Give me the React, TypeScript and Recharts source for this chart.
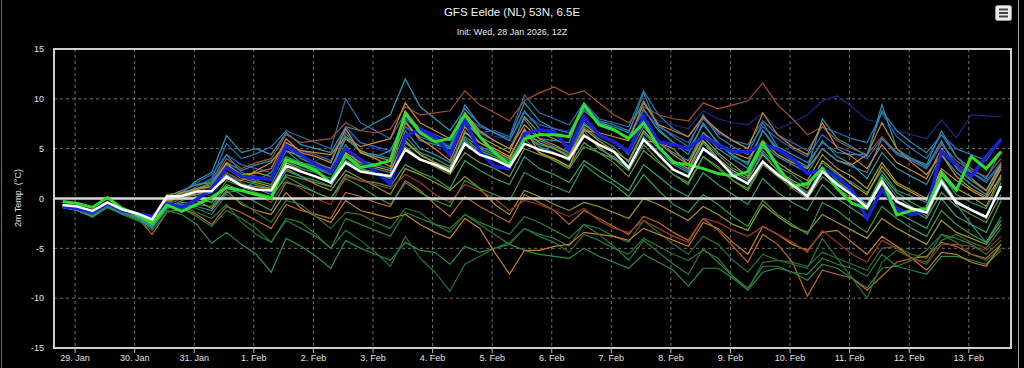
import {
  CartesianGrid,
  Line,
  LineChart,
  ReferenceArea,
  ReferenceLine,
  XAxis,
  YAxis,
} from 'recharts'

// hours since 29 Jan 00:00 (6-hourly steps, 28 Jan 19h .. 13 Feb 13h)
const hours = [
  -5, 1, 7, 13, 19, 25, 31, 37, 43, 49, 55, 61, 67, 73, 79, 85, 91, 97, 103, 109,
  115, 121, 127, 133, 139, 145, 151, 157, 163, 169, 175, 181, 187, 193, 199, 205,
  211, 217, 223, 229, 235, 241, 247, 253, 259, 265, 271, 277, 283, 289, 295, 301,
  307, 313, 319, 325, 331, 337, 343, 349, 355, 361, 367, 373,
]
const tickHours = [0, 24, 48, 72, 96, 120, 144, 168, 192, 216, 240, 264, 288, 312, 336, 360]
const tickLabels = [
  '29. Jan', '30. Jan', '31. Jan', '1. Feb', '2. Feb', '3. Feb', '4. Feb', '5. Feb',
  '6. Feb', '7. Feb', '8. Feb', '9. Feb', '10. Feb', '11. Feb', '12. Feb', '13. Feb',
]
const yTicks = [-15, -10, -5, 0, 5, 10, 15]

// ensemble mean (white)
const ensMean = [
  -0.65, -0.8, -1.25, -0.4, -1.1, -1.5, -2.1, 0.2, 0.25, 0.7, 0.75, 2.2, 1.3, 0.9, 0.8, 3.3,
  2.7, 2.2, 1.6, 3.6, 2.7, 2.45, 2.25, 4.9, 3.9, 3.4, 2.7, 5.5, 4.4, 3.9, 3.2, 5.5,
  4.9, 4.5, 4.0, 6.3, 5.4, 4.7, 3.1, 5.9, 4.4, 2.9, 2.2, 5.0, 3.9, 2.3, 1.5, 3.7,
  2.4, 1.35, 0.2, 2.7, 1.4, 0.35, -0.9, 1.7, -0.3, -1.0, -1.4, 1.7, -0.4, -1.15, -1.85, 1.25,
]
// control run (green)
const control = [
  -0.3, -0.5, -0.9, 0.1, -1.0, -1.6, -2.5, -0.65, -1.3, -0.6, 0.1, 1.1, 0.8, 0.4, 0.0, 3.9,
  3.4, 2.8, 1.6, 4.3, 3.1, 3.4, 3.8, 8.5, 6.6, 5.7, 6.0, 8.4, 6.2, 4.6, 3.4, 6.0,
  6.4, 6.4, 6.2, 9.4, 7.4, 6.9, 6.0, 7.6, 5.2, 3.6, 3.4, 3.0, 2.5, 2.25, 2.7, 5.6,
  3.2, 1.2, 1.5, 3.0, 1.0, -0.5, -1.0, 1.85, -1.65, -1.2, -1.0, 2.5, 0.85, 4.2, 3.0, 4.7,
]
// operational run (blue)
const operational = [
  -0.8, -1.0, -1.4, -0.5, -1.2, -1.5, -1.8, -0.5, -0.9, -0.1, 1.0, 3.1, 2.2, 2.1, 1.9, 5.3,
  4.4, 3.4, 2.7, 5.0, 3.9, 2.7, 1.5, 6.2, 7.0, 6.2, 4.4, 7.9, 4.7, 3.2, 3.0, 6.5,
  6.9, 6.7, 4.9, 8.2, 6.4, 5.7, 4.7, 8.2, 5.7, 5.4, 5.0, 6.2, 5.4, 4.7, 4.7, 5.4,
  4.9, 4.0, 2.5, 2.9, 2.2, 0.85, -2.0, 0.9, -1.0, -1.65, -1.2, 4.7, 3.4, 2.2, 4.2, 5.9,
]

// ensemble members (thin lines)
const memA = [-0.9,-1.1,-1.5,-0.7, -1.3,-1.7,-2.4,-0.3, 0.5,1.8,2.6,6.3, 4.6,5.0,4.4,6.6, 5.4,5.0,4.6,7.2, 6.8,7.6,8.4,12.0, 9.2,8.0,6.8,9.0, 7.4,6.6,6.0,9.6, 7.8,7.0,6.6,8.8, 7.6,6.8,6.2,9.0, 6.8,5.6,4.8,7.4, 5.6,4.2,3.6,6.8, 5.0,4.0,3.2,5.8, 4.2,3.4,2.0,4.6, 3.0,2.2,1.4,4.4, 2.6,1.4,0.4,3.2]
const memB = [-0.7,-0.9,-1.3,-0.5, -1.0,-1.4,-2.0,-0.1, 0.3,1.2,2.0,5.5, 4.0,4.5,5.2,6.8, 6.2,5.6,5.0,10.0, 7.6,6.8,6.0,8.6, 7.0,6.4,5.8,7.4, 6.6,6.8,6.2,10.4, 8.6,8.0,7.4,9.6, 8.0,7.6,7.2,10.8, 8.4,7.0,6.2,8.2, 6.8,5.8,5.4,7.8, 6.4,5.6,4.8,7.2, 6.6,6.0,5.6,8.6, 6.2,5.0,4.0,6.4, 5.0,4.4,3.8,6.0]
const memC = [-0.8,-1.2,-1.8,-0.6, -1.2,-1.6,-2.2,0.0, 0.6,0.8,0.2,2.4, 1.6,1.0,0.6,3.0, 3.2,3.8,4.4,6.8, 5.6,5.0,4.6,7.0, 6.4,5.8,5.4,7.6, 6.8,6.2,6.0,8.2, 7.4,7.0,6.8,9.0, 7.6,7.2,6.8,8.4, 7.8,7.4,7.0,8.8, 8.0,7.6,7.4,8.6, 7.0,7.6,8.4,9.8, 10.3,9.2,7.9,7.6, 6.8,6.4,6.0,7.9, 6.1,8.4,8.3,8.2]
const memD = [-0.9,-1.2,-1.9,-0.9, -1.6,-2.2,-2.8,-1.2, -1.6,-2.6,-4.5,-3.4, -4.6,-5.6,-7.4,-4.0, -4.8,-5.8,-7.0,-4.2, -5.0,-5.6,-6.2,-4.4, -5.2,-5.4,-6.6,-4.8, -5.4,-5.0,-4.6,-5.2, -5.6,-5.8,-6.0,-5.0, -5.8,-6.4,-7.0,-5.6, -6.4,-7.2,-8.8,-7.0, -7.0,-8.0,-9.2,-7.4, -7.0,-7.4,-8.2,-6.6, -7.0,-8.0,-9.0,-7.0, -6.8,-7.2,-7.6,-5.8, -5.8,-6.2,-6.6,-5.2]
const memE = [-0.7,-1.0,-1.6,-0.6, -1.2,-1.8,-2.6,-0.8, -0.8,-1.4,-2.0,-0.6, -2.4,-3.6,-4.4,-2.2, -3.0,-3.8,-5.0,-3.2, -4.2,-5.4,-6.8,-3.8, -6.0,-7.4,-9.3,-6.6, -5.8,-5.0,-4.4,-3.0, -3.6,-4.0,-4.8,-2.6, -3.0,-3.8,-4.4,-2.2, -3.4,-4.6,-5.6,-3.8, -4.6,-6.2,-7.4,-5.6, -6.2,-6.4,-6.8,-5.4, -6.0,-6.6,-7.2,-5.0, -4.8,-5.6,-6.0,-3.6, -4.4,-5.6,-6.2,-5.0]
const memF = [-0.6,-0.9,-1.4,-0.4, -1.2,-1.6,-2.2,-0.4, 0.4,-0.2,-1.0,0.8, -0.6,-1.2,-1.6,0.6, -1.0,-1.8,-2.4,-0.2, -1.2,-1.6,-2.0,-1.6, -2.6,-3.4,-4.0,-2.0, -3.0,-5.4,-7.6,-5.2, -5.2,-4.8,-4.6,-3.4, -3.6,-3.8,-4.2,-3.0, -3.6,-4.2,-4.8,-2.4, -3.0,-4.4,-5.6,-2.8, -3.6,-4.6,-5.2,-3.4, -3.2,-4.4,-5.6,-3.8, -4.8,-6.0,-7.2,-5.4, -5.6,-6.4,-6.8,-4.6]
const memG = [-0.8,-1.0,-1.5,-0.5, -1.4,-1.8,-2.4,-0.2, 0.2,0.8,1.6,4.0, 3.0,3.6,4.0,6.4, 5.6,5.8,6.0,7.6, 6.8,6.6,7.0,9.2, 8.4,8.6,8.8,10.8, 9.4,8.6,7.8,9.8, 10.6,11.2,10.4,10.8, 9.6,8.4,7.6,9.2, 8.4,8.0,7.8,9.6, 9.0,9.4,9.8,11.6, 9.4,8.0,6.4,7.2, 5.8,5.0,4.4,6.2, 4.6,3.8,3.0,5.4, 3.8,2.8,2.2,4.0]
const memH = [-0.7,-1.0,-1.4,-0.4, -1.1,-1.5,-2.2,0.2, 0.8,1.4,1.6,3.4, 2.4,2.6,2.2,4.8, 4.2,3.6,3.0,6.0, 4.8,4.2,3.8,8.8, 6.8,5.6,5.0,7.6, 6.2,5.4,4.6,8.2, 6.6,6.0,5.2,7.4, 6.4,5.6,4.8,7.6, 5.6,4.4,3.4,6.2, 4.6,3.4,2.2,5.2, 3.6,2.6,1.8,4.4, 3.0,2.2,1.0,3.6, 1.6,0.8,0.0,2.8, 1.0,0.2,-0.8,2.4]
const memI = [-0.9,-1.2,-1.7,-0.7, -1.4,-1.9,-2.7,-0.6, 0.0,0.4,0.6,2.6, 1.8,1.4,1.0,3.8, 3.0,2.6,2.0,4.4, 3.4,3.0,2.6,6.2, 4.6,4.0,3.2,6.8, 5.0,4.4,3.6,6.4, 5.4,5.0,4.4,7.2, 6.0,5.2,3.6,6.6, 5.0,3.6,2.8,5.8, 4.4,3.0,2.4,4.8, 3.2,2.4,1.2,3.6, 2.4,1.6,0.6,2.8, 0.8,0.2,-0.4,2.4, 0.4,-0.4,-1.0,2.0]
const memJ = [-0.8,-1.1,-1.6,-0.8, -1.5,-2.0,-2.9,-1.0, -0.4,-0.6,-0.8,1.2, 0.4,-0.4,-1.2,1.6, 1.2,0.6,0.0,2.4, 1.8,1.6,1.2,3.4, 2.6,2.0,1.0,3.8, 2.8,2.0,1.4,4.2, 3.0,2.4,1.6,3.8, 2.8,1.8,0.8,3.4, 2.2,1.0,0.2,2.6, 1.4,0.4,-0.6,2.0, 0.6,-0.4,-1.2,1.4, 0.0,-1.0,-2.0,0.8, -1.4,-2.2,-3.0,0.0, -1.8,-2.6,-3.4,-0.2]
const memK = [-0.7,-1.0,-1.5,-0.6, -1.3,-1.9,-3.6,-1.4, -1.0,-1.6,-2.6,-0.8, -1.4,-2.2,-3.0,-0.6, -1.2,-1.6,-2.0,0.6, 0.2,-0.4,-0.8,1.8, 0.8,-0.6,-1.8,0.2, -0.8,-1.6,-2.4,0.4, -0.4,-1.2,-2.6,-1.2, -2.0,-2.8,-3.6,-1.8, -2.4,-3.4,-4.2,-2.0, -3.2,-4.8,-6.4,-3.6, -4.6,-6.4,-9.8,-7.2, -7.6,-8.0,-9.2,-7.8, -6.4,-6.0,-5.8,-4.4, -4.8,-5.6,-6.0,-4.6]
const memL = [-0.8,-1.0,-1.4,-0.6, -1.2,-1.6,-2.3,0.0, 0.6,1.6,2.4,4.4, 3.4,3.0,2.6,5.6, 4.8,4.4,3.8,7.2, 5.6,5.2,4.8,8.0, 6.8,6.0,5.2,8.2, 7.2,6.6,5.8,8.6, 7.4,7.0,6.6,9.0, 7.8,7.0,6.0,8.8, 7.2,6.4,5.6,8.0, 6.6,5.8,5.0,7.2, 6.0,5.0,4.2,6.4, 5.2,4.6,4.0,6.0, 4.4,3.8,3.0,5.6, 3.4,2.6,1.8,3.6]
const memM = [-0.6,-0.9,-1.3,-0.5, -1.0,-1.4,-2.0,0.4, 0.6,0.2,-0.4,1.4, 0.8,0.4,0.0,2.4, 2.0,1.6,1.2,3.8, 3.0,2.6,2.0,5.2, 4.0,3.2,2.4,4.6, 3.6,3.0,2.2,5.0, 4.4,4.0,3.2,5.6, 4.6,3.6,2.2,4.8, 3.6,2.4,1.6,4.2, 3.0,1.8,0.8,3.4, 2.2,1.0,0.0,2.2, 1.0,0.0,-1.0,1.4, -0.4,-1.2,-2.0,0.6, -0.8,-1.6,-2.4,0.4]
const memN = [-0.9,-1.1,-1.6,-0.8, -1.4,-1.8,-2.5,-0.4, 0.2,1.0,1.6,3.6, 2.8,3.4,3.8,5.2, 4.0,3.4,2.8,6.6, 4.6,4.2,4.8,7.8, 5.8,5.4,5.0,8.6, 6.6,5.8,5.0,8.0, 6.0,5.8,5.6,9.6, 7.6,7.2,6.6,10.6, 7.0,5.6,4.4,7.6, 5.4,4.4,3.4,6.8, 4.8,3.8,3.0,8.0, 6.0,5.2,4.2,9.4, 5.0,4.0,3.2,5.8, 3.0,1.8,0.8,3.6]
const memO = [-0.8,-1.1,-1.6,-0.7, -1.4,-2.0,-2.8,-1.0, -0.6,-1.0,-1.6,0.4, -0.4,-1.4,-2.4,-0.2, -0.6,-1.8,-3.0,-1.4, -1.6,-2.4,-3.0,-1.0, -1.4,-2.6,-3.4,-1.6, -2.6,-3.6,-4.6,-3.0, -3.8,-4.4,-5.4,-3.6, -4.2,-5.0,-5.6,-4.0, -4.8,-5.6,-6.2,-5.2, -6.0,-7.8,-9.2,-6.4, -6.2,-6.6,-7.0,-4.0, -6.0,-8.0,-10.0,-6.4, -5.2,-6.0,-6.4,-4.2, -3.6,-4.4,-5.0,-3.0]
const memP = [-0.7,-0.9,-1.3,-0.5, -1.1,-1.5,-2.1,0.2, 0.4,0.6,0.8,2.0, 1.8,2.8,3.6,5.6, 4.8,4.6,4.4,6.2, 5.2,5.6,6.0,9.6, 7.6,6.8,6.0,8.6, 6.8,5.8,5.0,7.4, 6.0,5.4,4.6,6.4, 5.2,4.0,3.2,5.8, 5.6,5.0,3.4,6.6, 5.4,4.6,4.0,5.8, 4.4,3.6,3.0,5.0, 3.8,3.4,4.4,7.6, 5.0,3.6,2.4,4.4, 2.2,1.0,0.2,3.0]
const memQ = [-0.8,-1.2,-1.8,-0.7, -1.3,-1.8,-2.5,-0.6, 0.6,0.9,1.2,3.0, 2.0,1.6,1.2,3.0, 2.2,1.4,0.8,2.8, 2.0,1.2,0.4,3.0, 2.4,1.6,0.8,2.2, 1.0,-0.6,-1.6,0.8, 0.2,-0.6,-1.2,-0.4, -0.8,-1.4,-2.0,0.0, -0.6,-1.4,-2.2,-0.8, -1.6,-2.6,-3.2,-0.6, -1.8,-2.8,-3.4,-1.6, -2.4,-3.2,-4.0,-2.0, -3.0,-3.8,-4.6,-2.2, -3.4,-4.0,-4.6,-2.6]
const memR = [-0.9,-1.2,-1.8,-0.8, -1.5,-2.0,-3.0,-0.8, -0.6,-0.8,-1.2,0.6, 0.8,1.8,2.6,4.2, 3.4,3.0,2.4,5.0, 3.8,3.4,3.0,6.8, 5.0,4.4,3.6,6.2, 5.2,4.6,3.8,6.2, 5.8,5.2,4.6,7.6, 6.4,5.8,4.4,7.2, 5.6,4.6,3.8,6.6, 5.0,4.0,3.0,5.4, 4.2,3.4,2.6,5.0, 3.8,3.2,2.6,6.0, 4.6,4.0,3.4,6.8, 4.2,3.0,2.0,4.8]
const memS = [-0.8,-1.0,-1.5,-0.6, -1.2,-1.7,-2.4,-0.4, 0.2,0.0,-0.4,1.8, 1.2,0.6,0.2,2.2, 1.4,0.6,0.0,2.0, 1.2,0.2,-0.6,1.6, 0.6,-0.2,-0.8,1.8, 1.0,0.4,-0.2,2.6, 1.8,1.2,0.6,3.4, 2.2,1.4,0.2,2.4, 0.8,-0.6,-1.4,0.4, -0.6,-1.8,-2.8,-0.2, -1.6,-2.6,-3.6,-0.4, -1.2,-2.4,-3.4,-0.8, -2.0,-3.0,-3.8,-1.2, -2.6,-3.6,-4.4,-1.8]
const memT = [-0.7,-1.0,-1.6,-0.6, -1.3,-1.9,-2.8,-0.6, 0.0,0.6,1.2,2.6, 1.6,0.4,-0.4,1.8, 1.0,0.0,-0.6,2.2, 1.8,1.4,1.0,2.4, 1.6,0.4,-0.4,1.4, 0.8,0.0,-1.2,-0.2, -0.6,-1.2,-1.8,-1.0, -2.2,-3.0,-3.4,-2.2, -3.0,-3.8,-4.4,-2.0, -2.4,-3.2,-3.8,-2.8, -3.6,-4.4,-5.4,-3.2, -4.4,-5.6,-6.4,-4.2, -5.0,-6.0,-6.6,-4.6, -4.6,-4.8,-5.2,-3.8]
const memU = [-0.8,-1.1,-1.7,-0.7, -1.4,-1.9,-2.6,-0.3, 0.8,1.4,1.8,4.4, 2.6,2.2,1.8,4.8, 3.6,3.0,2.6,6.2, 4.6,4.4,4.0,7.2, 6.2,5.6,5.2,9.4, 7.4,6.6,5.8,8.8, 7.0,6.6,6.2,9.2, 7.8,7.4,6.8,9.8, 7.4,6.2,5.2,8.4, 6.2,5.2,4.4,7.6, 5.2,4.4,3.6,5.6, 4.6,4.4,4.4,8.8, 6.8,5.6,4.6,6.4, 4.2,2.6,1.6,3.4]
const memV = [-0.6,-0.9,-1.4,-0.4, -1.0,-1.5,-2.2,0.0, 0.4,1.0,1.4,3.2, 2.2,1.8,1.4,4.2, 3.6,3.2,2.6,5.4, 3.0,2.4,2.0,5.6, 4.4,3.6,2.8,6.0, 4.8,4.2,3.4,6.0, 4.6,3.8,3.0,5.2, 4.6,4.0,2.8,5.4, 3.8,2.4,1.4,4.2, 3.2,1.8,1.0,3.6, 2.6,1.6,0.6,2.8, 1.6,0.6,-0.6,2.4, 0.6,-0.4,-1.2,2.0, -0.2,-1.2,-2.0,1.6]
const memW = [-0.7,-1.0,-1.5,-0.5, -1.2,-1.6,-2.4,-0.2, 0.2,0.4,0.8,2.0, 1.4,1.2,1.0,3.6, 2.8,2.2,1.6,4.6, 3.6,3.2,2.8,5.8, 4.4,3.6,3.0,6.6, 5.6,5.0,4.2,6.8, 5.6,5.0,4.2,7.0, 5.8,4.8,3.8,6.8, 5.2,3.8,3.0,5.8, 4.0,2.8,2.0,4.4, 2.8,1.8,1.0,3.8, 2.6,1.4,0.4,3.2, 1.4,0.6,-0.2,3.0, 1.8,0.8,0.0,2.2]
const memX = [-0.9,-1.2,-1.8,-0.8, -1.4,-1.9,-2.8,-0.9, -0.2,0.2,0.6,2.4, 1.4,1.0,0.4,2.8, 2.2,1.8,1.2,3.8, 2.8,2.6,2.2,5.0, 4.0,3.4,2.6,5.8, 4.6,4.0,3.4,6.6, 5.2,4.6,3.8,6.8, 5.0,4.2,3.0,6.2, 4.6,3.4,2.6,5.6, 3.8,2.6,1.8,4.6, 2.8,1.6,0.4,3.2, 1.8,0.6,-0.6,2.2, 0.2,-0.8,-1.8,1.4, -0.6,-2.6,-4.4,-2.2]
const memY = [-0.8,-1.1,-1.7,-0.8, -1.4,-2.1,-3.2,-1.4, -1.0,-1.8,-2.8,-1.2, -2.0,-3.0,-4.4,-2.0, -2.4,-3.6,-5.0,-2.0, -2.6,-3.2,-3.8,-1.4, -2.0,-2.6,-3.0,-1.6, -2.4,-3.0,-3.6,-1.8, -2.4,-3.2,-4.0,-2.6, -3.6,-4.8,-6.2,-4.2, -5.4,-6.6,-7.6,-5.0, -6.4,-7.8,-9.0,-6.8, -6.8,-7.4,-7.6,-6.0, -6.6,-7.0,-7.8,-5.6, -6.8,-6.2,-5.2,-3.6, -4.0,-4.6,-5.6,-4.2]
const memZ = [-0.7,-1.0,-1.4,-0.6, -1.2,-1.7,-2.3,-0.2, 0.6,1.0,1.2,3.6, 2.2,2.6,3.0,6.0, 4.6,4.2,3.6,7.0, 4.6,4.0,3.2,7.6, 6.0,5.0,3.8,7.2, 5.6,4.8,4.0,7.0, 4.6,4.0,3.2,6.8, 6.6,6.2,5.8,9.6, 7.4,6.8,6.2,8.2, 6.8,5.8,5.0,8.6, 6.4,5.2,4.4,7.6, 5.0,4.2,3.0,5.4, 3.6,2.8,2.0,5.0, 3.2,2.0,0.8,3.4]

const members = [
  { key: 'mA', color: '#2a9cb0', values: memA },
  { key: 'mB', color: '#2a74b4', values: memB },
  { key: 'mC', color: '#1a2a88', values: memC },
  { key: 'mD', color: '#2a8c42', values: memD },
  { key: 'mE', color: '#267238', values: memE },
  { key: 'mF', color: '#c48024', values: memF },
  { key: 'mG', color: '#a85028', values: memG },
  { key: 'mH', color: '#a89e26', values: memH },
  { key: 'mI', color: '#269478', values: memI },
  { key: 'mJ', color: '#34a066', values: memJ },
  { key: 'mK', color: '#bc6826', values: memK },
  { key: 'mL', color: '#3462c0', values: memL },
  { key: 'mM', color: '#74902c', values: memM },
  { key: 'mN', color: '#2892a6', values: memN },
  { key: 'mO', color: '#2a742e', values: memO },
  { key: 'mP', color: '#cc8a2c', values: memP },
  { key: 'mQ', color: '#9e961e', values: memQ },
  { key: 'mR', color: '#3486ac', values: memR },
  { key: 'mS', color: '#329a42', values: memS },
  { key: 'mT', color: '#983c1c', values: memT },
  { key: 'mU', color: '#2884b4', values: memU },
  { key: 'mV', color: '#44a048', values: memV },
  { key: 'mW', color: '#bc9c34', values: memW },
  { key: 'mX', color: '#2c9696', values: memX },
  { key: 'mY', color: '#2a8038', values: memY },
  { key: 'mZ', color: '#d48828', values: memZ },
]

const rows = hours.map((h, i) => {
  const row: Record<string, number> = {
    h,
    mean: ensMean[i],
    ctrl: control[i],
    op: operational[i],
  }
  members.forEach((m) => {
    row[m.key] = m.values[i]
  })
  return row
})

const font = "'Liberation Sans', Arial, sans-serif"
const tickStyle = { fontSize: 9, fill: '#e2e2e2', fontFamily: font }

export default function App() {
  return (
    <div
      style={{
        position: 'relative',
        width: 1024,
        height: 368,
        background: '#000',
        overflow: 'hidden',
        fontFamily: font,
      }}
    >
      <style>{'body{margin:0;background:#000}'}</style>
      <div
        style={{
          position: 'absolute',
          left: 1,
          top: 0,
          width: 1018,
          height: 368,
          borderLeft: '1px solid #6e6e6e',
          borderRight: '1px solid #a0a0a0',
          boxSizing: 'border-box',
        }}
      />
      <div
        style={{
          position: 'absolute',
          top: 5,
          left: 0,
          width: 1024,
          textAlign: 'center',
          color: '#f2f2f2',
          fontSize: 11.5,
          lineHeight: '14px',
        }}
      >
        GFS Eelde (NL) 53N, 6.5E
      </div>
      <div
        style={{
          position: 'absolute',
          top: 27,
          left: 0,
          width: 1024,
          textAlign: 'center',
          color: '#e8e8e8',
          fontSize: 9,
          lineHeight: '11px',
        }}
      >
        Init: Wed, 28 Jan 2026, 12Z
      </div>
      <svg
        width={18}
        height={17}
        style={{ position: 'absolute', left: 995, top: 5 }}
      >
        <rect x={0.5} y={0.5} width={16} height={15} rx={2} fill="#ececec" stroke="#999" />
        <line x1={4} x2={13} y1={4.5} y2={4.5} stroke="#444" strokeWidth={2} />
        <line x1={4} x2={13} y1={8} y2={8} stroke="#444" strokeWidth={2} />
        <line x1={4} x2={13} y1={11.5} y2={11.5} stroke="#444" strokeWidth={2} />
      </svg>
      <div
        style={{
          position: 'absolute',
          left: 18,
          top: 198,
          transform: 'translate(-50%, -50%) rotate(-90deg)',
          whiteSpace: 'nowrap',
          color: '#e2e2e2',
          fontSize: 9,
        }}
      >
        2m Temp. (°C)
      </div>
      <div style={{ position: 'absolute', left: 0, top: 0 }}>
        <LineChart
          width={1024}
          height={368}
          data={rows}
          margin={{ top: 49, right: 13, bottom: 0, left: 0 }}
        >
          <CartesianGrid stroke="#8c8c8c" strokeDasharray="3 3" strokeWidth={0.8} />
          <XAxis
            dataKey="h"
            type="number"
            domain={[-8.5, 377]}
            ticks={tickHours}
            tickFormatter={(v: number) => tickLabels[tickHours.indexOf(v)] ?? ''}
            tick={tickStyle}
            tickLine={{ stroke: '#bbbbbb' }}
            tickSize={5}
            tickMargin={2}
            axisLine={false}
            height={20}
            allowDataOverflow
          />
          <YAxis
            type="number"
            domain={[-15, 15]}
            ticks={yTicks}
            tick={tickStyle}
            tickLine={false}
            tickSize={0}
            tickMargin={10}
            axisLine={false}
            width={54}
            allowDataOverflow
          />
          <ReferenceArea
            x1={-8.5}
            x2={377}
            y1={-15}
            y2={15}
            fill="none"
            stroke="#cfcfcf"
            strokeWidth={2}
            fillOpacity={0}
          />
          {members.map((m) => (
            <Line
              key={m.key}
              dataKey={m.key}
              type="linear"
              stroke={m.color}
              strokeWidth={1.2}
              dot={false}
              isAnimationActive={false}
            />
          ))}
          <ReferenceLine y={0} stroke="#d8d8d8" strokeWidth={2.5} />
          <Line
            dataKey="op"
            type="linear"
            stroke="#1a22d8"
            strokeWidth={3.5}
            dot={false}
            isAnimationActive={false}
          />
          <Line
            dataKey="ctrl"
            type="linear"
            stroke="#2ede2e"
            strokeWidth={3}
            dot={false}
            isAnimationActive={false}
          />
          <Line
            dataKey="mean"
            type="linear"
            stroke="#ffffff"
            strokeWidth={2.5}
            dot={false}
            isAnimationActive={false}
          />
        </LineChart>
      </div>
    </div>
  )
}
